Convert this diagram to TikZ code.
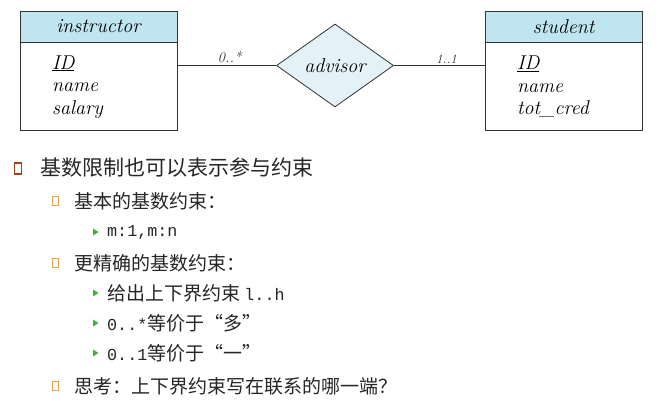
\documentclass[tikz,border=0pt]{standalone}
\usepackage{fontspec}
\newfontfamily\cjk{Noto Sans CJK SC}
\newfontfamily\mono[Scale=0.88]{Liberation Mono}
\usepackage{tikz}
\usetikzlibrary{positioning,shapes.geometric}

\definecolor{headblue}{RGB}{191,230,240}
\definecolor{relblue}{RGB}{228,242,248}
\definecolor{bulred}{RGB}{176,58,30}
\definecolor{bulorange}{RGB}{240,160,80}
\definecolor{bulgreen}{RGB}{60,180,60}

\begin{document}
\begin{tikzpicture}[x=1pt,y=-1pt,
  entity/.style={draw=black!80,line width=0.8pt,minimum width=157pt,inner sep=0pt},
  ehead/.style={entity,fill=headblue,minimum height=31pt,font=\fontsize{20}{22}\selectfont\itshape},
  ebody/.style={entity,minimum height=88pt,inner xsep=32pt,text width=93pt,align=left,font=\fontsize{20}{22.5}\selectfont\itshape},
  relship/.style={diamond,draw=black!80,line width=0.8pt,fill=relblue,aspect=1.41,minimum width=117pt,minimum height=83pt,inner sep=0pt,font=\fontsize{20}{22}\selectfont\itshape},
  card/.style={inner sep=2pt,font=\fontsize{15}{16}\selectfont\itshape},
  lvla/.style={anchor=west,inner sep=0pt,text=black!85,font=\fontsize{21}{24}\selectfont\cjk},
  lvlb/.style={lvla,font=\fontsize{19}{22}\selectfont\cjk}]
  \useasboundingbox[fill=white] (0,0) rectangle (672,420);

  % Entity sets
  \node[ehead] (ins-h) at (98.5,26.5) {instructor};
  \node[ebody,below=0pt of ins-h] (ins) {\underline{ID}\\ name\\ salary};
  \node[ehead] (stu-h) at (563.5,26.5) {student};
  \node[ebody,below=0pt of stu-h] (stu) {\underline{ID}\\ name\\ tot\_cred};

  % Relationship and cardinalities
  \node[relship] (adv) at (335,65.5) {advisor};
  \draw[black!80,line width=0.8pt] (adv.west -| ins.east) -- node[card,above,pos=0.53]{0..*} (adv.west);
  \draw[black!80,line width=0.8pt] (adv.east) -- node[card,above,pos=0.58,font=\fontsize{13}{14}\selectfont\itshape]{1..1} (adv.east -| stu.west);

  % Bullets
  \draw[bulred,line width=1.6pt] (14.5,163) rectangle (21.5,174);
  \foreach \y in {201,263,386}{
    \draw[bulorange,line width=0.8pt] (52.5,\y-4.5) rectangle (58,\y+4.5);
  }
  \foreach \y in {232,293,323,353}{
    \fill[bulgreen] (93,\y-3.5) -- (98.5,\y) -- (93,\y+3.5) -- cycle;
  }

  % Text
  \node[lvla] (pt1) at (40,168) {基数限制也可以表示参与约束};
  \node[lvlb] (pt2) at (74,201) {基本的基数约束：};
  \node[lvlb] (pt2a) at (107,232) {\mono m:1,m:n};
  \node[lvlb] (pt3) at (74,263) {更精确的基数约束：};
  \node[lvlb] (pt3a) at (107,293) {给出上下界约束 {\mono l..h}};
  \node[lvlb] (pt3b) at (107,323) {{\mono 0..*}等价于“多”};
  \node[lvlb] (pt3c) at (107,353) {{\mono 0..1}等价于“一”};
  \node[lvlb] (pt4) at (74,386) {思考：上下界约束写在联系的哪一端？};
\end{tikzpicture}
\end{document}
